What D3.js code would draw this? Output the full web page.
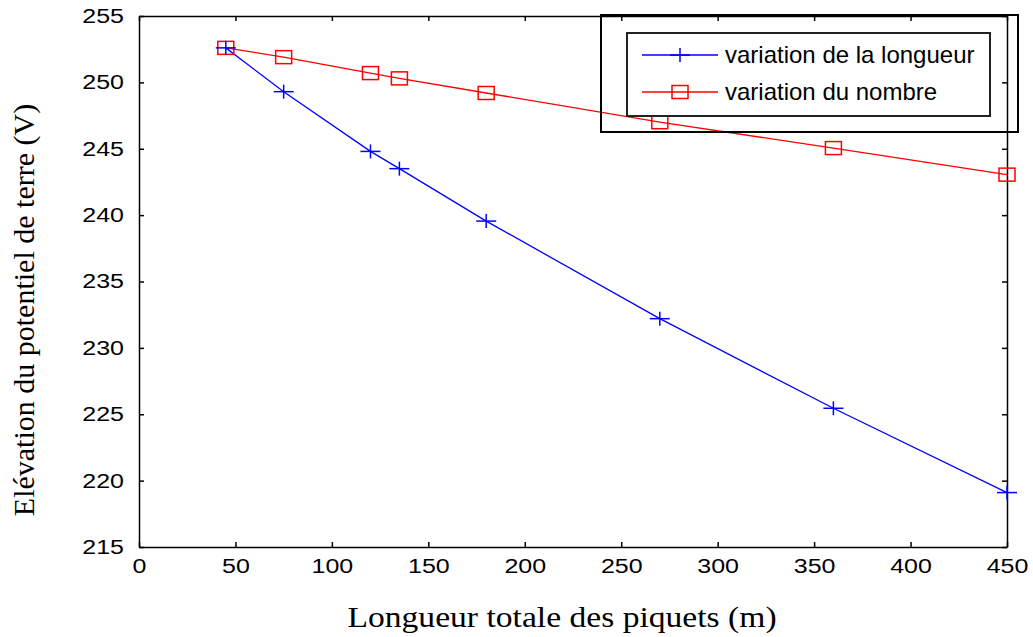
<!DOCTYPE html>
<html>
<head>
<meta charset="utf-8">
<script src="https://cdn.jsdelivr.net/npm/d3@7"></script>
<style>
body { margin: 0; background: #fff; }
svg text { fill: #000; }
.tick text { font-family: "Liberation Sans", Arial, sans-serif; font-size: 20px; }
.title { font-family: "Liberation Serif", "Times New Roman", serif; font-size: 30px; }
.leg { font-family: "Liberation Sans", Arial, sans-serif; font-size: 24px; }
</style>
</head>
<body>
<svg id="chart" width="1033" height="637"></svg>
<script>
// piquets length (m)
var longueur = [45, 75, 120, 135, 180, 270, 360, 450];
var varLongueur = [252.6, 249.3, 244.8, 243.5, 239.55, 232.2, 225.45, 219.1];
var varNombre = [252.6, 251.9, 250.7, 250.3, 249.2, 247.0, 245.05, 243.05];
var xTicks = [0, 50, 100, 150, 200, 250, 300, 350, 400, 450];
var yTicks = [215, 220, 225, 230, 235, 240, 245, 250, 255];
var noms = ["variation de la longueur", "variation du nombre"];

var svg = d3.select("#chart");
var margin = {top: 16, right: 26, bottom: 90, left: 139};
var width = 1033 - margin.left - margin.right;
var height = 637 - margin.top - margin.bottom;

var x = d3.scaleLinear().domain([0, 450]).range([0, width]);
var y = d3.scaleLinear().domain([215, 255]).range([height, 0]);

var g = svg.append("g").attr("transform", "translate(" + margin.left + "," + margin.top + ")");

// axes, ticks inward like matlab
function styleAxis(sel) {
    sel.select(".domain").attr("stroke", "#000").attr("stroke-width", 1.5);
    sel.selectAll(".tick line").attr("stroke", "#000").attr("stroke-width", 1.5);
}
var xAx = g.append("g").attr("transform", "translate(0," + height + ")")
    .call(d3.axisBottom(x).tickValues(xTicks).tickSize(-5).tickSizeOuter(0).tickPadding(12))
    .call(styleAxis);
xAx.selectAll(".tick text").attr("transform", "scale(1.25,1)");
var yAx = g.append("g")
    .call(d3.axisLeft(y).tickValues(yTicks).tickSize(-5).tickSizeOuter(0).tickPadding(10))
    .call(styleAxis);
yAx.selectAll(".tick text").attr("x", -12).attr("transform", "scale(1.25,1)");
g.append("g")
    .call(d3.axisTop(x).tickValues(xTicks).tickSize(-5).tickSizeOuter(0).tickFormat(""))
    .call(styleAxis);
g.append("g").attr("transform", "translate(" + width + ",0)")
    .call(d3.axisRight(y).tickValues(yTicks).tickSize(-5).tickSizeOuter(0).tickFormat(""))
    .call(styleAxis);
g.selectAll(".tick text").attr("fill", "#000");

var line = d3.line()
    .x(function(d) {return x(d[0]);})
    .y(function(d) {return y(d[1]);});

var bleu = longueur.map(function(v, i) {return [v, varLongueur[i]];});
var rouge = longueur.map(function(v, i) {return [v, varNombre[i]];});

g.append("path").datum(rouge).attr("d", line)
    .attr("fill", "none").attr("stroke", "#ff0000").attr("stroke-width", 1.3);
g.append("path").datum(bleu).attr("d", line)
    .attr("fill", "none").attr("stroke", "#0000ff").attr("stroke-width", 1.3);

function plus(sel, color) {
    sel.append("line").attr("x1", -10).attr("x2", 10).attr("y1", 0).attr("y2", 0)
        .attr("stroke", color).attr("stroke-width", 1.5);
    sel.append("line").attr("x1", 0).attr("x2", 0).attr("y1", -7).attr("y2", 7)
        .attr("stroke", color).attr("stroke-width", 1.5);
}
function carre(sel, color) {
    sel.append("rect").attr("x", -8).attr("y", -6.5).attr("width", 16).attr("height", 13)
        .attr("fill", "none").attr("stroke", color).attr("stroke-width", 1.5);
}

g.selectAll("g.sq").data(rouge).enter().append("g").classed("sq", true)
    .attr("transform", function(d) {return "translate(" + x(d[0]) + "," + y(d[1]) + ")";})
    .call(carre, "#ff0000");
g.selectAll("g.pl").data(bleu).enter().append("g").classed("pl", true)
    .attr("transform", function(d) {return "translate(" + x(d[0]) + "," + y(d[1]) + ")";})
    .call(plus, "#0000ff");

// legend
svg.append("rect").attr("x", 601).attr("y", 15).attr("width", 417).attr("height", 117)
    .attr("fill", "none").attr("stroke", "#000").attr("stroke-width", 2);
svg.append("rect").attr("x", 627).attr("y", 33).attr("width", 363).attr("height", 83)
    .attr("fill", "#fff").attr("stroke", "#222").attr("stroke-width", 2);

var leg = svg.selectAll("g.legitem").data(noms).enter().append("g").classed("legitem", true)
    .attr("transform", function(d, i) {return "translate(0," + (55 + i * 37) + ")";});
leg.append("line").attr("x1", 642).attr("x2", 718).attr("y1", 0).attr("y2", 0)
    .attr("stroke", function(d, i) {return i == 0 ? "#0000ff" : "#ff0000";}).attr("stroke-width", 1.5);
leg.each(function(d, i) {
    var m = d3.select(this).append("g").attr("transform", "translate(680,0)");
    if (i == 0) plus(m, "#0000ff"); else carre(m, "#ff0000");
});
leg.append("text").classed("leg", true).attr("x", 725).attr("y", 8).text(function(d) {return d;});

// axis titles
svg.append("text").classed("title", true)
    .attr("transform", "translate(562,627) scale(1.12,1)")
    .attr("text-anchor", "middle")
    .text("Longueur totale des piquets (m)");
svg.append("text").classed("title", true)
    .attr("transform", "translate(34,310) rotate(-90)")
    .attr("text-anchor", "middle")
    .text("Elévation du potentiel de terre (V)");
</script>
</body>
</html>
